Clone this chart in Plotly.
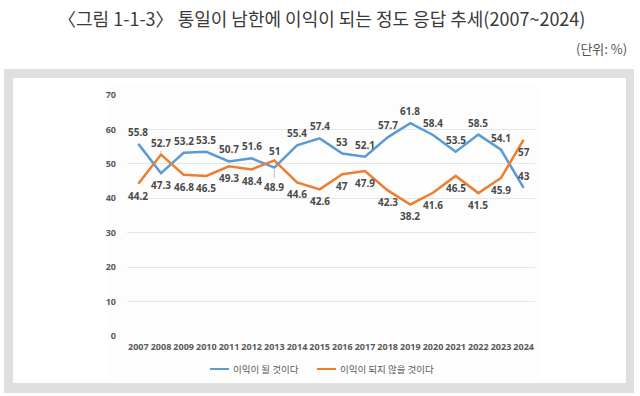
import plotly.graph_objects as go

years = [str(y) for y in range(2007, 2025)]
benefit = [55.8, 47.3, 53.2, 53.5, 50.7, 51.6, 48.9, 55.4, 57.4, 53, 52.1, 57.7, 61.8, 58.4, 53.5, 58.5, 54.1, 43]
no_benefit = [44.2, 52.7, 46.8, 46.5, 49.3, 48.4, 51, 44.6, 42.6, 47, 47.9, 42.3, 38.2, 41.6, 46.5, 41.5, 45.9, 57]
benefit_label_pos = ["a", "b", "a", "a", "a", "a", "b2", "a", "a", "a", "a", "a", "a", "a", "a", "a", "a", "a"]
no_benefit_label_pos = ["b", "a2", "b", "b", "b", "b", "a3", "b", "b", "b", "b", "b", "b", "b", "b", "b", "b", "b"]
series_names = ["이익이 될 것이다", "이익이 되지 않을 것이다"]
title_text = "〈그림 1-1-3〉 통일이 남한에 이익이 되는 정도 응답 추세(2007~2024)"
unit_text = "(단위: %)"

BLUE = "#5B9BD5"
ORANGE = "#ED7D31"
W, H = 640, 396
L, R, T, B = 127, 535, 95, 336  # plot area in px


def px(x):
    return (x - L) / (R - L)


def py(y):
    return (B - y) / (B - T)


fig = go.Figure()
for vals, color, name in [(benefit, BLUE, series_names[0]), (no_benefit, ORANGE, series_names[1])]:
    fig.add_trace(go.Scatter(x=years, y=vals, mode="lines", name=name,
                             line=dict(color=color, width=2.5), showlegend=False,
                             hoverinfo="skip"))

annotations = []
label_font = dict(family="Noto Sans, Noto Sans CJK KR", size=10, color="#4a4a4a", weight="bold")
offsets = {"a": (-12, False), "b": (12, False), "b2": (19, True), "a2": (-12, True), "a3": (-9, False)}
for vals, poses in [(benefit, benefit_label_pos), (no_benefit, no_benefit_label_pos)]:
    for i, (v, p) in enumerate(zip(vals, poses)):
        off, leader = offsets[p]
        if leader:
            annotations.append(dict(x=i, y=v, xref="x", yref="y", text=f"{v:g}", showarrow=True,
                                    arrowhead=0, arrowwidth=1, arrowcolor="#bfbfbf", ax=0,
                                    ay=off, standoff=2, font=label_font))
        else:
            annotations.append(dict(x=i, y=v, xref="x", yref="y", text=f"{v:g}", showarrow=False,
                                    yshift=-off, font=label_font))

# title and unit
annotations.append(dict(x=px(321), y=py(18), xref="paper", yref="paper", text=title_text,
                        showarrow=False, xanchor="center", yanchor="middle",
                        font=dict(family="Noto Sans CJK KR", size=18, color="#3a3a3a")))
annotations.append(dict(x=px(629), y=py(48), xref="paper", yref="paper", text=unit_text,
                        showarrow=False, xanchor="right", yanchor="middle",
                        font=dict(family="Noto Sans CJK KR", size=13, color="#555555")))

# manual legend
leg_font = dict(family="Noto Sans CJK KR", size=9.5, color="#595959")
shapes = [
    dict(type="rect", xref="paper", yref="paper", x0=px(4), x1=px(634), y0=py(69), y1=py(393),
         fillcolor="#dedfe1", line=dict(width=0), layer="below"),
    dict(type="rect", xref="paper", yref="paper", x0=px(13), x1=px(626), y0=py(78), y1=py(383),
         fillcolor="#ffffff", line=dict(width=0), layer="below"),
    dict(type="rect", xref="paper", yref="paper", x0=px(106), x1=px(538), y0=py(84), y1=py(380),
         fillcolor="#fdfdfd", line=dict(width=0), layer="below"),
]
for (x0, color, name) in [(210, BLUE, series_names[0]), (317, ORANGE, series_names[1])]:
    shapes.append(dict(type="line", xref="paper", yref="paper", x0=px(x0), x1=px(x0 + 19),
                       y0=py(369), y1=py(369), line=dict(color=color, width=2)))
    annotations.append(dict(x=px(x0 + 21), y=py(369), xref="paper", yref="paper", text=name,
                            showarrow=False, xanchor="left", yanchor="middle", font=leg_font))

fig.update_layout(
    width=W, height=H,
    margin=dict(l=L, r=W - R, t=T, b=H - B, pad=0),
    paper_bgcolor="white", plot_bgcolor="rgba(0,0,0,0)",
    shapes=shapes, annotations=annotations,
    xaxis=dict(type="category", range=[-0.5, 17.5], showgrid=False, zeroline=False,
               showline=False, ticks="", ticklabelstandoff=4,
               tickfont=dict(family="Noto Sans, Noto Sans CJK KR", size=9, color="#595959", weight="bold")),
    yaxis=dict(range=[0, 70], dtick=10, showgrid=True, gridcolor="#e6e6e6", gridwidth=1,
               zeroline=False, showline=False, ticks="", ticklabelstandoff=10,
               tickfont=dict(family="Noto Sans, Noto Sans CJK KR", size=9, color="#595959", weight="bold")),
)

fig.write_html("out.html", config={"displayModeBar": False},
               post_script="document.body.style.margin='0';document.body.style.overflow='hidden';")
